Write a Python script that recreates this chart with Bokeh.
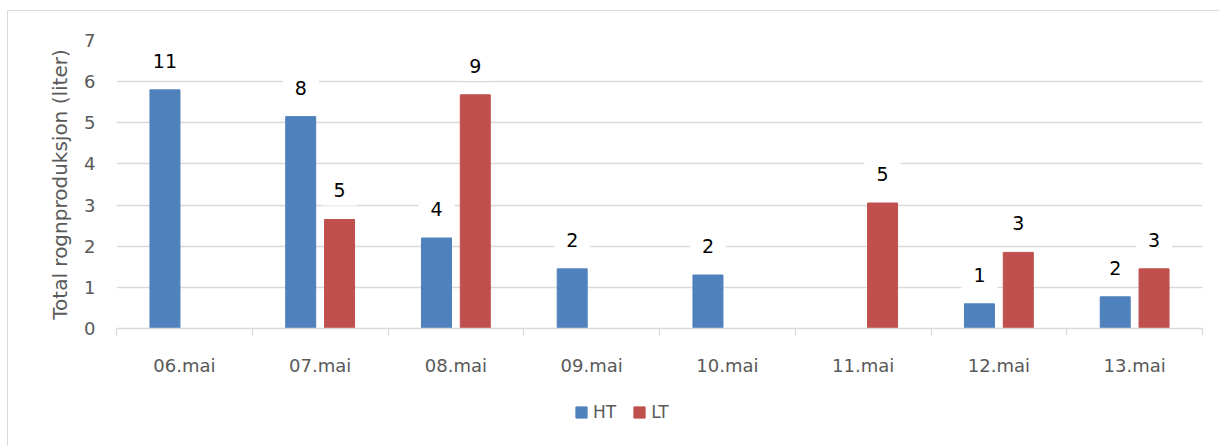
from bokeh.plotting import figure
from bokeh.layouts import column, row
from bokeh.models import (ColumnDataSource, Range1d, FixedTicker, Label, Legend, LegendItem, Spacer)
from bokeh.embed import file_html
from bokeh.resources import INLINE

# ---- data ----
categories = ["06.mai", "07.mai", "08.mai", "09.mai", "10.mai", "11.mai", "12.mai", "13.mai"]
ht_values = [5.8, 5.15, 2.2, 1.45, 1.3, 0.0, 0.6, 0.77]
lt_values = [0.0, 2.65, 5.68, 0.0, 0.0, 3.05, 1.85, 1.45]
ht_counts = ["11", "8", "4", "2", "2", "", "1", "2"]
lt_counts = ["", "5", "9", "", "", "5", "3", "3"]
series = ["HT", "LT"]
y_ticks = [0, 1, 2, 3, 4, 5, 6, 7]

HT_COLOR = "#4F81BD"
LT_COLOR = "#C0504D"
GRID = "#d9d9d9"
TXT = "#595959"
FONT = "DejaVu Sans"

OFF = 0.143
BW = 0.221

n = len(categories)
centers = [i + 0.5 for i in range(n)]

p = figure(width=1212, height=376, output_backend="svg", toolbar_location=None,
           x_range=Range1d(0, n), y_range=Range1d(0, 7),
           min_border_left=108, min_border_right=18, min_border_top=29, min_border_bottom=59)
p.outline_line_color = None
p.background_fill_color = "white"
p.border_fill_color = "white"
p.styles = {"border-left": "1px solid #d9d9d9", "border-top": "1px solid #d9d9d9"}

src_ht = ColumnDataSource(dict(x=[c - OFF for c in centers], top=ht_values))
src_lt = ColumnDataSource(dict(x=[c + OFF for c in centers], top=lt_values))
p.vbar(x="x", top="top", width=BW, source=src_ht, fill_color=HT_COLOR, line_color=HT_COLOR)
p.vbar(x="x", top="top", width=BW, source=src_lt, fill_color=LT_COLOR, line_color=LT_COLOR)

# data labels with white boxes
for vals, counts, sign in ((ht_values, ht_counts, -1), (lt_values, lt_counts, 1)):
    for c, v, t in zip(centers, vals, counts):
        if t:
            p.add_layout(Label(x=c + sign * OFF, y=v, text=t, y_offset=29,
                               text_align="center", text_baseline="middle",
                               text_font=FONT, text_font_size="19px", text_color="black",
                               background_fill_color="white", padding=(12, 8)))

# x axis
p.xaxis.ticker = FixedTicker(ticks=centers, minor_ticks=list(range(n + 1)))
p.xaxis.major_label_overrides = {c: lab for c, lab in zip(centers, categories)}
p.xaxis.major_tick_line_color = None
p.xaxis.major_tick_out = 0
p.xaxis.major_tick_in = 0
p.xaxis.minor_tick_line_color = GRID
p.xaxis.minor_tick_line_width = 1.3
p.xaxis.minor_tick_out = 7
p.xaxis.minor_tick_in = 0
p.xaxis.axis_line_color = GRID
p.xaxis.axis_line_width = 1.3
p.xaxis.major_label_text_font = FONT
p.xaxis.major_label_text_font_size = "18px"
p.xaxis.major_label_text_color = TXT
p.xaxis.major_label_standoff = 19

# y axis
p.yaxis.ticker = FixedTicker(ticks=y_ticks)
p.yaxis.axis_line_color = None
p.yaxis.major_tick_line_color = None
p.yaxis.minor_tick_line_color = None
p.yaxis.major_tick_out = 0
p.yaxis.major_tick_in = 0
p.yaxis.major_label_text_font = FONT
p.yaxis.major_label_text_font_size = "18px"
p.yaxis.major_label_text_color = TXT
p.yaxis.major_label_standoff = 21
p.yaxis.axis_label = "Total rognproduksjon (liter)"
p.yaxis.axis_label_text_font = FONT
p.yaxis.axis_label_text_font_size = "20px"
p.yaxis.axis_label_text_font_style = "normal"
p.yaxis.axis_label_text_color = TXT
p.yaxis.axis_label_standoff = 9

p.xgrid.grid_line_color = None
p.ygrid.grid_line_color = GRID
p.ygrid.grid_line_width = 1.3

# legend strip below the chart
p2 = figure(width=1212, height=60, output_backend="svg", toolbar_location=None,
            x_range=Range1d(0, 1), y_range=Range1d(0, 1),
            x_axis_type=None, y_axis_type=None,
            min_border_left=0, min_border_right=0, min_border_top=0, min_border_bottom=0)
p2.outline_line_color = None
p2.xgrid.visible = False
p2.ygrid.visible = False
p2.styles = {"border-left": "1px solid #d9d9d9"}
items = []
for name, col in zip(series, (HT_COLOR, LT_COLOR)):
    # hidden proxy bar: only its legend swatch is shown
    r = p2.vbar(x=[0.5], top=[1], width=0.1, fill_color=col, line_color=col)
    r.visible = False
    items.append(LegendItem(label=name, renderers=[r]))
legend = Legend(items=items, orientation="horizontal", location=(458, 24),
                glyph_width=14, glyph_height=14, label_standoff=5, spacing=16,
                padding=0, margin=0, border_line_color=None, background_fill_alpha=0,
                inactive_fill_alpha=0,
                label_text_font=FONT, label_text_font_size="17px", label_text_color=TXT,
                label_height=14)
p2.add_layout(legend, "center")

layout = column(Spacer(width=1220, height=10), row(Spacer(width=7, height=436), column(p, p2)))
open("out.html", "w").write(file_html(layout, INLINE))
